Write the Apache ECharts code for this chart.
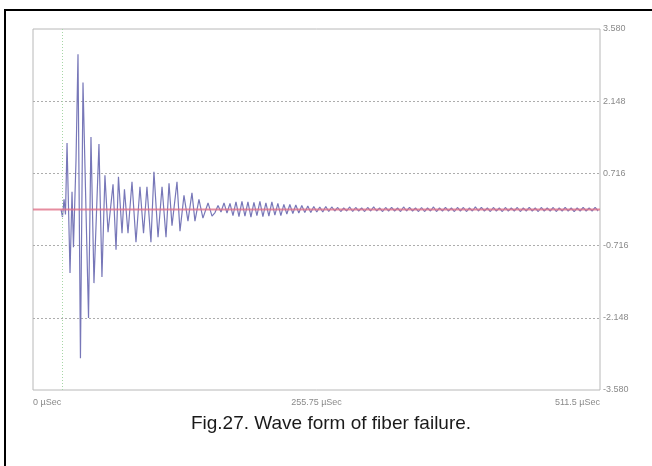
<!DOCTYPE html>
<html>
<head>
<meta charset="utf-8">
<script src="https://cdn.jsdelivr.net/npm/echarts@6/dist/echarts.min.js"></script>
<style>
  html, body { margin: 0; padding: 0; background: #fff; }
  #chart { width: 652px; height: 466px; }
</style>
</head>
<body>
<div id="chart"></div>
<script>
// burst part: extrema (time in uSec, amplitude)
var burstTimes = [25.3, 26.6, 28.0, 29.3, 30.7, 33.4, 35.2, 36.5, 38.8,
    40.6, 42.8, 45.1, 50.1, 52.3, 55.0, 59.5, 62.2, 64.9, 67.7,
    72.2, 74.9, 77.1, 80.3, 82.5, 85.7, 89.3, 92.9, 96.5, 99.7,
    102.8, 106.4, 109.1, 112.8, 116.4, 120.0, 122.7, 125.4, 129.9, 132.6,
    136.2, 139.8, 143.4, 146.1, 149.7, 153.3, 157.9, 161.5];
var burstValues = [0, -0.15, 0.2, -0.1, 1.32, -1.26, 0.35, -0.75, 0.98,
    3.08, -2.95, 2.52, -2.15, 1.44, -1.46, 1.30, -1.34, 0.68, -0.45,
    0.5, -0.8, 0.65, -0.47, 0.4, -0.47, 0.55, -0.65, 0.45, -0.47,
    0.45, -0.65, 0.75, -0.55, 0.45, -0.55, 0.52, -0.32, 0.55, -0.43,
    0.28, -0.23, 0.33, -0.23, 0.2, -0.17, 0.13, -0.13];

// ringing tail, sampled every tailStep uSec
var tailStart = 164.2;
var tailStep = 2.7;
var tailValues = [-0.06, 0.08, -0.05, 0.13, -0.07, 0.12,
    -0.12, 0.15, -0.14, 0.16, -0.13, 0.15, -0.15, 0.14, -0.12, 0.16,
    -0.14, 0.13, -0.13, 0.15, -0.11, 0.12, -0.12, 0.1,
    -0.09, 0.1, -0.08, 0.09, -0.07, 0.08, -0.06, 0.07, -0.06, 0.06,
    -0.05, 0.05, -0.05, 0.06, -0.04,
    0.05, -0.03, 0.04, -0.04, 0.03, -0.03, 0.05, -0.04, 0.04, -0.03,
    0.03, -0.04, 0.04, -0.03, 0.05, -0.03, 0.03, -0.04, 0.04, -0.03,
    0.04, -0.03, 0.03, -0.04, 0.05, -0.03, 0.04, -0.03, 0.03, -0.04,
    0.04, -0.04, 0.03, -0.03, 0.05, -0.04, 0.03, -0.03, 0.04, -0.03,
    0.03, -0.04, 0.04, -0.03, 0.04, -0.04, 0.03, -0.03, 0.05, -0.03,
    0.04, -0.03, 0.03, -0.04, 0.04, -0.03, 0.03, -0.04, 0.04, -0.03,
    0.03, -0.03, 0.04, -0.04, 0.03, -0.03, 0.04, -0.03, 0.03, -0.04,
    0.04, -0.03, 0.03, -0.03, 0.04, -0.04, 0.03, -0.03, 0.04, -0.03,
    0.03, -0.04, 0.03, -0.03, 0.04, -0.03, 0.03, -0.03, 0.04, -0.03];

var baselineTimes = [0, 511.5];
var baselineValues = [0, 0];

var triggerTime = 26.2;
var timeMax = 511.5;
var ampMax = 3.58;
var ampStep = 1.432;
var caption = 'Fig.27. Wave form of fiber failure.';

var wave = [];
burstTimes.forEach(function (t, i) {
    wave.push([t, burstValues[i]]);
});
tailValues.forEach(function (v, i) {
    wave.push([+(tailStart + i * tailStep).toFixed(2), v]);
});
var baseline = baselineTimes.map(function (t, i) {
    return [t, baselineValues[i]];
});

var myChart = echarts.init(document.getElementById('chart'), null, { renderer: 'canvas' });

var labelFont = 'Liberation Sans';

option = {
    animation: false,
    backgroundColor: '#fff',
    grid: {
        left: 33, top: 29, right: 52, bottom: 76,
        show: true,
        borderColor: '#b8b8b8',
        borderWidth: 1
    },
    xAxis: {
        type: 'value',
        min: 0,
        max: timeMax,
        interval: timeMax / 2,
        axisLine: { show: false, onZero: false },
        axisTick: { show: false },
        splitLine: { show: false },
        axisLabel: {
            color: '#8a8a8a',
            fontSize: 9,
            fontFamily: labelFont,
            margin: 8,
            alignMinLabel: 'left',
            alignMaxLabel: 'right',
            formatter: function (v) { return v + ' \u00b5Sec'; }
        }
    },
    yAxis: [{
        // tick axis, 0..5 steps of ampStep
        type: 'value',
        min: 0,
        max: 5,
        interval: 1,
        position: 'right',
        axisLine: { show: false },
        axisTick: { show: false },
        axisLabel: {
            color: '#8a8a8a',
            fontSize: 9,
            fontFamily: labelFont,
            margin: 3,
            formatter: function (v) { return ((v - 2.5) * ampStep).toFixed(3); }
        },
        splitLine: {
            show: true,
            showMinLine: false,
            showMaxLine: false,
            lineStyle: { color: '#adadad', type: [2, 2], width: 1 }
        }
    }, {
        // data axis
        type: 'value',
        min: -ampMax,
        max: ampMax,
        position: 'right',
        show: false,
        axisLine: { show: false },
        splitLine: { show: false }
    }],
    series: [
        {
            name: 'wave',
            type: 'line',
            yAxisIndex: 1,
            symbol: 'none',
            z: 2,
            lineStyle: { color: '#7777b8', width: 1.2 },
            data: wave,
            markLine: {
                silent: true,
                symbol: 'none',
                label: { show: false },
                lineStyle: { color: '#a6d6a6', type: [1, 2], width: 1 },
                data: [{ xAxis: triggerTime }]
            }
        },
        {
            name: 'baseline',
            type: 'line',
            yAxisIndex: 1,
            symbol: 'none',
            z: 10,
            silent: true,
            lineStyle: { color: '#e07088', width: 2, opacity: 0.8 },
            data: baseline
        }
    ],
    graphic: [
        {
            type: 'rect',
            shape: { x: 5, y: 10, width: 700, height: 500 },
            style: { fill: 'none', stroke: '#000', lineWidth: 2 },
            silent: true
        },
        {
            type: 'text',
            x: 331,
            y: 424,
            style: {
                text: caption,
                fill: '#1a1a1a',
                font: '19px "Liberation Sans", Arial, sans-serif',
                textAlign: 'center',
                textVerticalAlign: 'middle'
            }
        }
    ]
};

myChart.setOption(option);
</script>
</body>
</html>
